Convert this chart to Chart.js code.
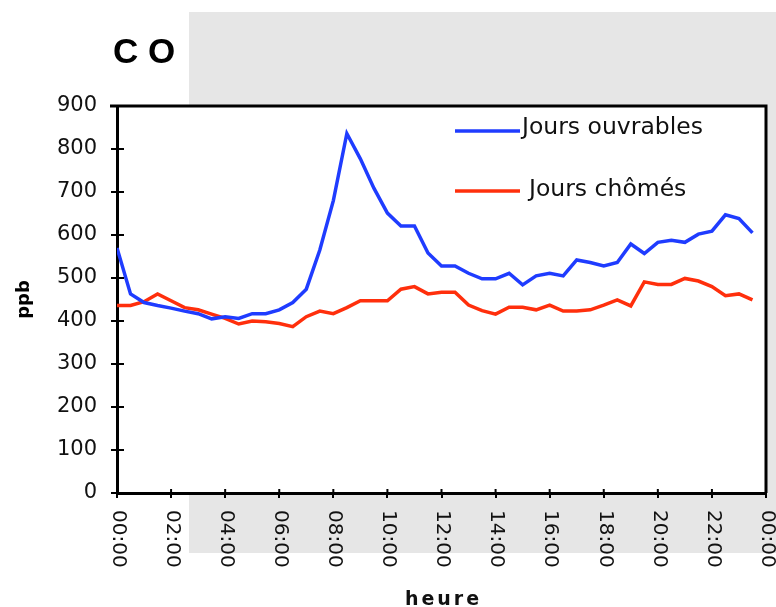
<!DOCTYPE html>
<html>
<head>
<meta charset="utf-8">
<script src="https://cdn.jsdelivr.net/npm/chart.js@4.4.1/dist/chart.umd.min.js"></script>
<style>
  html, body { margin: 0; padding: 0; background: #fff; }
  canvas { display: block; }
</style>
</head>
<body>
<canvas id="chart" width="776" height="607"></canvas>
<script>
"use strict";

// half-hour time steps (hours since midnight)
const HOURS = [0, 0.5, 1, 1.5, 2, 2.5, 3, 3.5, 4, 4.5, 5, 5.5, 6, 6.5, 7, 7.5,
  8, 8.5, 9, 9.5, 10, 10.5, 11, 11.5, 12, 12.5, 13, 13.5, 14, 14.5, 15, 15.5,
  16, 16.5, 17, 17.5, 18, 18.5, 19, 19.5, 20, 20.5, 21, 21.5, 22, 22.5, 23, 23.5];

const OUVRABLES = [570, 463, 443, 436, 430, 423, 417, 405, 410, 406, 417, 417,
  426, 443, 474, 565, 680, 836, 777, 709, 651, 621, 621, 558,
  528, 528, 511, 498, 498, 511, 484, 505, 511, 505, 542, 536,
  528, 536, 579, 557, 583, 588, 583, 602, 609, 647, 638, 605];

const CHOMES = [436, 436, 445, 463, 447, 431, 426, 416, 406, 393, 400, 398,
  394, 387, 410, 423, 417, 431, 447, 447, 447, 474, 480, 463,
  467, 467, 437, 424, 416, 432, 432, 426, 437, 423, 423, 426,
  437, 449, 435, 491, 485, 485, 499, 493, 480, 459, 463, 449];

const TICK_HOURS = [0, 2, 4, 6, 8, 10, 12, 14, 16, 18, 20, 22, 24];
const TICK_LABELS = ["00:00", "02:00", "04:00", "06:00", "08:00", "10:00", "12:00",
  "14:00", "16:00", "18:00", "20:00", "22:00", "00:00"];
const Y_TICKS = [0, 100, 200, 300, 400, 500, 600, 700, 800, 900];

const SERIES = [
  { label: "Jours ouvrables", values: OUVRABLES, color: "#1f3cff" },
  { label: "Jours chômés", values: CHOMES, color: "#ff2f0c" },
];

const FONT = '"DejaVu Sans", sans-serif';
const INK = "#111";

// background panel, frame, rotated hour labels, titles and legend
const decor = {
  id: "decor",
  beforeDraw(chart) {
    const { ctx, chartArea: a, width, height } = chart;
    ctx.save();
    ctx.fillStyle = "#fff";
    ctx.fillRect(0, 0, width, height);
    ctx.fillStyle = "#e6e6e6";
    ctx.fillRect(189, 12, width - 189, 541);
    ctx.fillStyle = "#fff";
    ctx.fillRect(a.left, a.top, a.right - a.left, a.bottom - a.top);
    ctx.restore();
  },
  afterDraw(chart) {
    const { ctx, chartArea: a } = chart;
    const xs = chart.scales.x, ys = chart.scales.y;
    ctx.save();

    // top / right frame
    ctx.strokeStyle = "#000";
    ctx.lineWidth = 3;
    ctx.beginPath();
    ctx.moveTo(a.left - 7, a.top);
    ctx.lineTo(a.right, a.top);
    ctx.lineTo(a.right, a.bottom);
    ctx.stroke();

    // inner part of tick marks
    ctx.lineWidth = 2;
    ctx.beginPath();
    for (const v of Y_TICKS) {
      const y = ys.getPixelForValue(v);
      ctx.moveTo(a.left, y);
      ctx.lineTo(a.left + 7, y);
    }
    for (const h of TICK_HOURS) {
      const x = xs.getPixelForValue(h);
      ctx.moveTo(x, a.bottom);
      ctx.lineTo(x, a.bottom - 4);
    }
    ctx.stroke();

    // hour labels, reading downwards
    ctx.fillStyle = INK;
    ctx.font = "20px " + FONT;
    ctx.textAlign = "left";
    ctx.textBaseline = "middle";
    TICK_HOURS.forEach((h, i) => {
      ctx.save();
      ctx.translate(xs.getPixelForValue(h) + 1, a.bottom + 17);
      ctx.rotate(Math.PI / 2);
      ctx.fillText(TICK_LABELS[i], 0, 0);
      ctx.restore();
    });

    // axis title
    ctx.font = "bold 19px " + FONT;
    ctx.textAlign = "center";
    ctx.textBaseline = "alphabetic";
    ctx.letterSpacing = "3px";
    ctx.fillText("heure", (a.left + a.right) / 2 + 2, 605);
    ctx.letterSpacing = "0px";

    // chart title
    ctx.fillStyle = "#000";
    ctx.font = 'bold 35px "Liberation Sans", Arial, sans-serif';
    ctx.textAlign = "left";
    ctx.fillText("C O", 113, 63);

    // legend
    const rows = [
      { s: SERIES[0], y: a.top + 25, tx: a.left + 405, ty: a.top + 28 },
      { s: SERIES[1], y: a.top + 85, tx: a.left + 412, ty: a.top + 90 },
    ];
    ctx.font = "23.5px " + FONT;
    ctx.lineWidth = 3.5;
    for (const r of rows) {
      ctx.strokeStyle = r.s.color;
      ctx.beginPath();
      ctx.moveTo(a.left + 338, r.y);
      ctx.lineTo(a.left + 403, r.y);
      ctx.stroke();
      ctx.fillStyle = INK;
      ctx.fillText(r.s.label, r.tx, r.ty);
    }
    ctx.restore();
  },
};

function start() {
  const datasets = SERIES.map(s => ({
    label: s.label,
    data: HOURS.map((h, i) => ({ x: h, y: s.values[i] })),
    borderColor: s.color,
    backgroundColor: s.color,
    borderWidth: 3.5,
    pointRadius: 0,
    tension: 0,
    fill: false,
  }));

  new Chart(document.getElementById("chart"), {
    type: "line",
    data: { datasets },
    options: {
      responsive: false,
      animation: false,
      devicePixelRatio: 1,
      layout: { padding: { top: 106, right: 10, left: 0, bottom: 0 } },
      plugins: { legend: { display: false }, tooltip: { enabled: false } },
      scales: {
        x: {
          type: "linear",
          min: 0, max: 24,
          afterBuildTicks: s => { s.ticks = TICK_HOURS.map(v => ({ value: v })); },
          afterFit: s => { s.height = 114; },
          ticks: { display: false },
          grid: { drawOnChartArea: false, drawTicks: true, tickLength: 5, color: "#000", lineWidth: 2 },
          border: { display: true, color: "#000", width: 3 },
        },
        y: {
          min: 0, max: 900,
          afterBuildTicks: s => { s.ticks = Y_TICKS.map(v => ({ value: v })); },
          afterFit: s => { s.width = 117; },
          ticks: {
            color: INK, padding: 14,
            font: { family: FONT, size: 21 },
            callback: v => String(v),
          },
          grid: { drawOnChartArea: false, drawTicks: true, tickLength: 6, color: "#000", lineWidth: 2 },
          border: { display: true, color: "#000", width: 3 },
          title: {
            display: true, text: "ppb", color: "#000",
            font: { family: FONT, size: 18, weight: "bold" },
            padding: { top: 14, bottom: 0 },
          },
        },
      },
    },
    plugins: [decor],
  });
}

document.addEventListener("DOMContentLoaded", start);
</script>
</body>
</html>
